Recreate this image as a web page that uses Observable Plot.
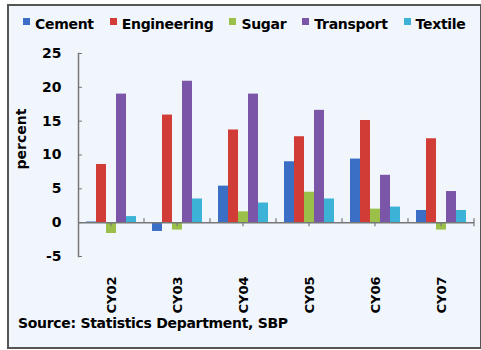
<!DOCTYPE html>
<html>
<head>
<meta charset="utf-8">
<script src="https://cdn.jsdelivr.net/npm/d3@7"></script>
<script src="https://cdn.jsdelivr.net/npm/@observablehq/plot@0.6"></script>
<style>
  html, body { margin: 0; padding: 0; background: #ffffff; }
  body { width: 481px; height: 350px; position: relative; overflow: hidden;
         font-family: "DejaVu Sans", sans-serif; font-weight: bold; color: #000; }
  #frame { position: absolute; left: 7px; top: 4px; width: 471px; height: 341px;
           border: 2px solid #555; background: #f1f6fc; }
  #legend { position: absolute; left: 23px; top: 16px; display: flex; gap: 16px;
            font-size: 14px; letter-spacing: -0.3px; line-height: 16px; white-space: nowrap; }
  #legend span.item { display: flex; align-items: flex-start; }
  #legend span.sw { width: 7px; height: 7px; margin-top: 2px; margin-right: 5px; display: inline-block; }
  #chart { position: absolute; left: 0; top: 40px; }
  #source { position: absolute; left: 18px; top: 315px; font-size: 14px; letter-spacing: -0.3px; white-space: nowrap; }
</style>
</head>
<body>
<div id="frame"></div>
<div id="legend"></div>
<div id="chart"></div>
<div id="source">Source: Statistics Department, SBP</div>
<script>
const years = ["CY02", "CY03", "CY04", "CY05", "CY06", "CY07"];
const series = ["Cement", "Engineering", "Sugar", "Transport", "Textile"];
const colors = ["#3b6fc6", "#d23c37", "#9bc049", "#7b55a8", "#3cb2d6"];
const cement      = [0.1, -1.3, 5.4, 9.0, 9.4, 1.8];
const engineering = [8.6, 15.9, 13.7, 12.7, 15.1, 12.4];
const sugar       = [-1.6, -1.1, 1.6, 4.5, 2.0, -1.1];
const transport   = [19.0, 20.9, 19.0, 16.6, 7.0, 4.6];
const textile     = [0.9, 3.5, 2.9, 3.5, 2.3, 1.8];
const yTicks = [-5, 0, 5, 10, 15, 20, 25];

const valuesBySeries = [cement, engineering, sugar, transport, textile];
const data = [];
years.forEach((yr, i) => series.forEach((s, j) => data.push({year: yr, series: s, value: valuesBySeries[j][i]})));

// legend
const lg = document.getElementById("legend");
series.forEach((s, j) => {
  const it = document.createElement("span"); it.className = "item";
  const sw = document.createElement("span"); sw.className = "sw"; sw.style.background = colors[j];
  it.appendChild(sw); it.appendChild(document.createTextNode(s)); lg.appendChild(it);
});

const plot = Plot.plot({
  width: 481,
  height: 280,
  marginTop: 13,
  marginBottom: 64,
  marginLeft: 78,
  marginRight: 7,
  style: {background: "transparent", fontFamily: "DejaVu Sans", fontWeight: "bold", fontSize: "14px", color: "#000"},
  fx: {domain: years, paddingInner: 0, paddingOuter: 0, label: null},
  x: {domain: series, paddingInner: 0, paddingOuter: 0.8, axis: null},
  y: {domain: [-5, 25], label: null},
  color: {domain: series, range: colors},
  marks: [
    Plot.barY(data, {fx: "year", x: "series", y: "value", fill: "series", inset: 0}),
    Plot.ruleY([0], {stroke: "#777", strokeWidth: 1.5}),
    Plot.frame({anchor: "left", stroke: "#777", strokeWidth: 1.5, facetAnchor: "left"}),
    Plot.axisY({ticks: yTicks, tickSize: -4, tickPadding: 21, stroke: "#777", fontSize: 14, fontWeight: "bold", tickFormat: d => d}),
    Plot.axisFx({anchor: "bottom", tickSize: 0, tickPadding: 20, tickRotate: -90, fontSize: 13, fontWeight: "bold"}),
    Plot.text(["percent"], {frameAnchor: "left", facetAnchor: "left", textAnchor: "middle", rotate: -90, dx: -57, dy: -16, fontSize: 14, fontWeight: "bold", text: d => d})
  ]
});
document.getElementById("chart").appendChild(plot);

// small ticks on the zero line at category boundaries and centres
const fx = plot.scale("fx"), y = plot.scale("y");
const svg = d3.select(plot);
const y0 = y.apply(0);
const g = svg.append("g").attr("stroke", "#777").attr("stroke-width", 1.2);
years.forEach((yr, i) => {
  const x0 = fx.apply(yr);
  if (i > 0) g.append("line").attr("x1", x0).attr("x2", x0).attr("y1", y0 - 4).attr("y2", y0);
  const xc = x0 + fx.bandwidth / 2;
  g.append("line").attr("x1", xc).attr("x2", xc).attr("y1", y0).attr("y2", y0 + 4);
});
const xEnd = fx.apply(years[years.length - 1]) + fx.bandwidth;
g.append("line").attr("x1", xEnd).attr("x2", xEnd).attr("y1", y0 - 4).attr("y2", y0 + 4);
</script>
</body>
</html>
